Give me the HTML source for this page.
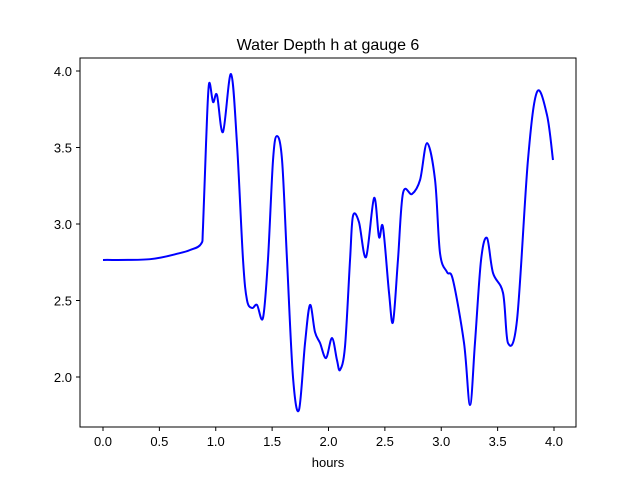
<!DOCTYPE html>
<html><head><meta charset="utf-8"><style>
body{margin:0;background:#fff}
text{font-family:"Liberation Sans","DejaVu Sans",sans-serif;fill:#000}
</style></head><body>
<svg id="chart" width="640" height="480">
<rect width="640" height="480" fill="#fff"/>
<text x="328" y="50" text-anchor="middle" font-size="16">Water Depth h at gauge 6</text>
<g id="xt"></g><g id="yt"></g>
<path id="line" fill="none" stroke="#0000ff" stroke-width="2"/>
<rect x="80" y="58" width="496" height="369" fill="none" stroke="#000" stroke-width="1"/>
<text x="328" y="467" text-anchor="middle" font-size="13">hours</text>
</svg>
<script>
const hours=[0,0.417,0.683,0.772,0.869,0.887,0.914,0.940,0.976,1.011,1.064,1.135,1.188,1.242,1.277,1.322,1.366,1.419,1.463,1.508,1.543,1.588,1.632,1.685,1.738,1.792,1.836,1.880,1.925,1.978,2.031,2.075,2.102,2.146,2.191,2.217,2.270,2.333,2.404,2.448,2.483,2.537,2.572,2.616,2.661,2.741,2.812,2.874,2.945,2.989,3.051,3.104,3.202,3.255,3.299,3.353,3.406,3.459,3.548,3.592,3.672,3.769,3.849,3.938,3.991];
const depth=[2.765,2.770,2.810,2.830,2.869,2.980,3.529,3.915,3.797,3.843,3.601,3.980,3.529,2.765,2.503,2.451,2.471,2.386,2.765,3.418,3.575,3.418,2.765,2.000,1.784,2.222,2.471,2.294,2.222,2.124,2.255,2.111,2.046,2.196,2.765,3.052,3.013,2.784,3.170,2.915,2.980,2.549,2.359,2.765,3.203,3.196,3.288,3.529,3.288,2.810,2.686,2.634,2.222,1.817,2.222,2.765,2.908,2.680,2.549,2.222,2.373,3.418,3.863,3.712,3.418,3.209];
const xTicks=["0.0","0.5","1.0","1.5","2.0","2.5","3.0","3.5","4.0"];
const yTicks=["2.0","2.5","3.0","3.5","4.0"];
const X=v=>103+v*112.75, Y=v=>71+(4-v)*153;
const ns="http://www.w3.org/2000/svg";
const xt=document.getElementById('xt'), yt=document.getElementById('yt');
xTicks.forEach(t=>{const x=X(+t);
const l=document.createElementNS(ns,'line');l.setAttribute('x1',x);l.setAttribute('x2',x);l.setAttribute('y1',427);l.setAttribute('y2',431);l.setAttribute('stroke','#000');


xt.appendChild(l);
const s=document.createElementNS(ns,'text');s.setAttribute('x',x);s.setAttribute('y',446);s.setAttribute('text-anchor','middle');s.setAttribute('font-size','13');s.textContent=t;


xt.appendChild(s);});
yTicks.forEach(t=>{const y=Y(+t);
const l=document.createElementNS(ns,'line');l.setAttribute('x1',76);l.setAttribute('x2',80);l.setAttribute('y1',y);l.setAttribute('y2',y);l.setAttribute('stroke','#000');


yt.appendChild(l);
const s=document.createElementNS(ns,'text');s.setAttribute('x',72);s.setAttribute('y',y+5);s.setAttribute('text-anchor','end');s.setAttribute('font-size','13');s.textContent=t;


yt.appendChild(s);});
const P=hours.map((h,i)=>[X(h),Y(depth[i])]);
let d='M'+P[0][0]+','+P[0][1];
for(let i=0;i<P.length-1;i++){const p0=P[Math.max(0,i-1)],p1=P[i],p2=P[i+1],p3=P[Math.min(P.length-1,i+2)];
const c1=[p1[0]+(p2[0]-p0[0])/6,p1[1]+(p2[1]-p0[1])/6],c2=[p2[0]-(p3[0]-p1[0])/6,p2[1]-(p3[1]-p1[1])/6];
d+=`C${c1[0]},${c1[1]} ${c2[0]},${c2[1]} ${p2[0]},${p2[1]}`;}
document.getElementById('line').setAttribute('d',d);
</script>
</body></html>
